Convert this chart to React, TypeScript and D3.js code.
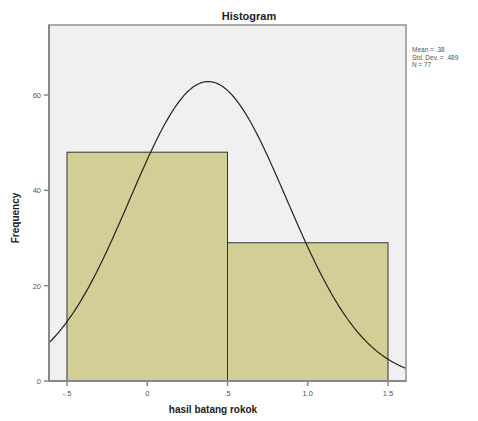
import * as d3 from 'd3';

const binEdges = [-0.5, 0.5, 1.5];
const counts = [48, 29];
const xTicks = [-0.5, 0, 0.5, 1.0, 1.5];
const xTickLabels = ['-.5', '0', '.5', '1.0', '1.5'];
const yTicks = [0, 20, 40, 60];
const mean = 0.38;
const sd = 0.489;
const n = 77;
const statLines = ['Mean = .38', 'Std. Dev. = .489', 'N = 77'];

const width = 478;
const height = 421;
const left = 49;
const right = 406;
const top = 25;
const bottom = 381;

export default function App() {
  const x = d3.scaleLinear([-0.5, 1.5], [67, 388]);
  const y = d3.scaleLinear([0, 60], [bottom, bottom - 286]);
  const binWidth = binEdges[1] - binEdges[0];
  // normal curve scaled to counts
  const pdf = (v: number) =>
    (n * binWidth * Math.exp(-((v - mean) ** 2) / (2 * sd * sd))) /
    (sd * Math.sqrt(2 * Math.PI));
  const xs = d3.range(x.invert(left), x.invert(right) + 0.001, 0.01);
  const line = d3.line<number>((v) => x(v), (v) => y(pdf(v)));

  return (
    <svg
      width={width}
      height={height}
      style={{ position: 'absolute', left: 0, top: 0, fontFamily: 'Arial, Liberation Sans, sans-serif' }}
    >
      <rect x={0} y={0} width={width} height={height} fill="white" />
      <text x={249} y={20} fontSize={11} fontWeight={700} textAnchor="middle" fill="#222">
        Histogram
      </text>
      <rect
        x={left}
        y={top}
        width={right - left}
        height={bottom - top}
        fill="#f0f0f0"
        stroke="#aaa"
        strokeWidth={2}
      />
      {counts.map((c, i) => (
        <rect
          key={i}
          x={x(binEdges[i])}
          y={y(c)}
          width={x(binEdges[i + 1]) - x(binEdges[i])}
          height={bottom - y(c)}
          fill="#d3ce96"
          stroke="#333"
          strokeWidth={1}
        />
      ))}
      <path d={line(xs) ?? ''} fill="none" stroke="#222" strokeWidth={1.2} />
      <line x1={left} x2={left} y1={top} y2={bottom} stroke="#888" strokeWidth={2} />
      <line x1={left} x2={right} y1={bottom} y2={bottom} stroke="#888" strokeWidth={2} />
      {yTicks.map((t) => (
        <g key={t}>
          <line x1={left - 5} x2={left} y1={y(t)} y2={y(t)} stroke="#888" strokeWidth={1.5} />
          <text x={left - 8} y={y(t) + 3} fontSize={7.5} textAnchor="end" fill="#555">
            {t}
          </text>
        </g>
      ))}
      {xTicks.map((t, i) => (
        <g key={t}>
          <line x1={x(t)} x2={x(t)} y1={bottom} y2={bottom + 5} stroke="#888" strokeWidth={1.5} />
          <text x={x(t)} y={bottom + 15} fontSize={7.5} textAnchor="middle" fill="#555">
            {xTickLabels[i]}
          </text>
        </g>
      ))}
      <text
        transform={`translate(19, 218) rotate(-90)`}
        fontSize={10}
        fontWeight={700}
        textAnchor="middle"
        fill="#222"
      >
        Frequency
      </text>
      <text x={213} y={413} fontSize={10} fontWeight={700} textAnchor="middle" fill="#222">
        hasil batang rokok
      </text>
      {statLines.map((s, i) => (
        <text key={s} x={412} y={52 + i * 7.5} fontSize={6.5} fill="#555">
          {s}
        </text>
      ))}
    </svg>
  );
}
